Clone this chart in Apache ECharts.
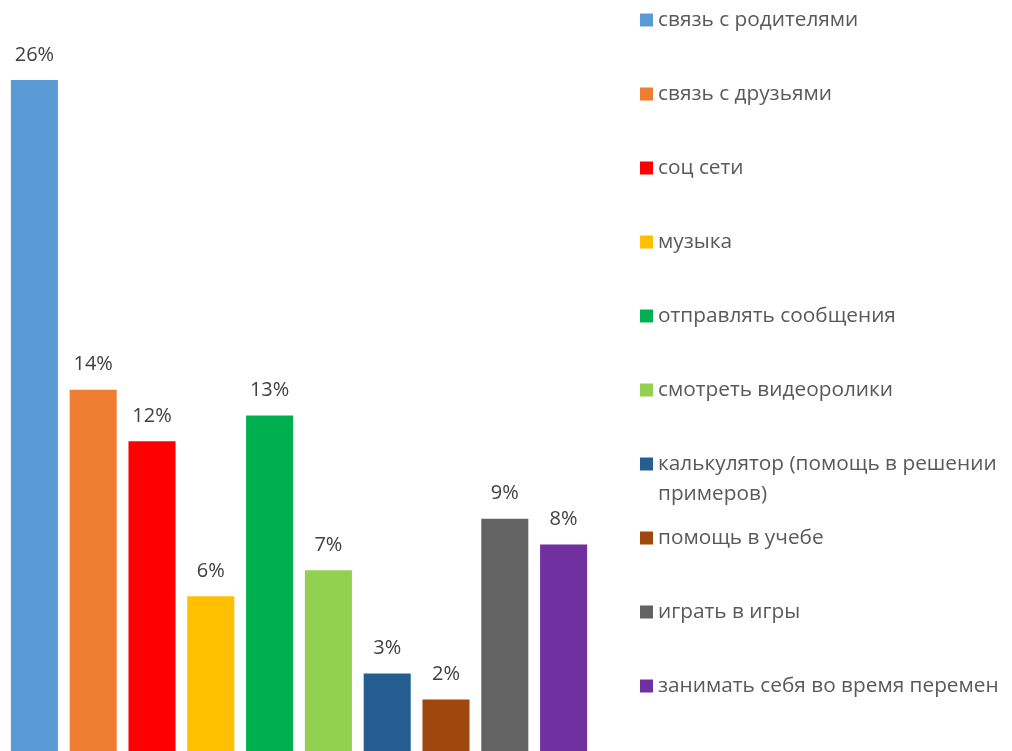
<!DOCTYPE html>
<html lang="ru">
<head>
  <meta charset="UTF-8">
  <title>Для чего нужен телефон</title>
  <script src="https://cdn.jsdelivr.net/npm/echarts@6/dist/echarts.min.js"></script>
  <style>
    html, body {
      margin: 0;
      padding: 0;
      background: #fff;
    }
    #chart {
      width: 1012px;
      height: 751px;
    }
  </style>
</head>
<body>
<div id="chart"></div>
<script>
  // data
  const categories = [
    'связь с родителями',
    'связь с друзьями',
    'соц сети',
    'музыка',
    'отправлять сообщения',
    'смотреть видеоролики',
    'калькулятор (помощь в решении\nпримеров)',
    'помощь в учебе',
    'играть в игры',
    'занимать себя во время перемен'
  ];
  const values = [26, 14, 12, 6, 13, 7, 3, 2, 9, 8];
  const colors = ['#5B9BD5', '#ED7D31', '#FF0000', '#FFC000', '#00B050',
    '#92D050', '#255E91', '#9E480E', '#636363', '#7030A0'];

  let chart = echarts.init(document.getElementById('chart'));

  // one series per category so the legend lists each of them
  let series = categories.map(function (name, i) {
    return {
      name: name,
      type: 'bar',
      stack: 'all',
      barCategoryGap: '20%',
      itemStyle: {color: colors[i]},
      label: {
        show: true,
        position: 'top',
        distance: 15,
        color: '#404040',
        fontFamily: 'Open Sans',
        fontSize: 20,
        formatter: '{c}%'
      },
      data: values.map(function (v, j) {
        return j === i ? v : '-';
      })
    };
  });

  // the legend is split in three so the wrapped entry keeps the even spacing
  function makeLegend(names, top) {
    return {
      orient: 'vertical',
      left: 640,
      top: top,
      padding: 0,
      itemGap: 44,
      itemWidth: 13,
      itemHeight: 13,
      icon: 'rect',
      textStyle: {
        color: '#595959',
        fontFamily: 'Open Sans',
        fontSize: 20.8,
        lineHeight: 30
      },
      // an empty first line keeps the wrapped entry's first line beside its marker
      formatter: function (name) {
        return name.indexOf('\n') >= 0 ? '\n' + name : name;
      },
      data: names
    };
  }

  let option = {
    animation: false,
    grid: {left: 5, right: 419, top: 80, bottom: 0},
    legend: [
      makeLegend(categories.slice(0, 6), 5),
      makeLegend(categories.slice(6, 7), 419),
      makeLegend(categories.slice(7), 523)
    ],
    xAxis: {
      type: 'category',
      data: categories,
      show: false
    },
    yAxis: {
      type: 'value',
      min: 0,
      max: 26,
      show: false
    },
    series: series
  };
  chart.setOption(option);
</script>
</body>
</html>
